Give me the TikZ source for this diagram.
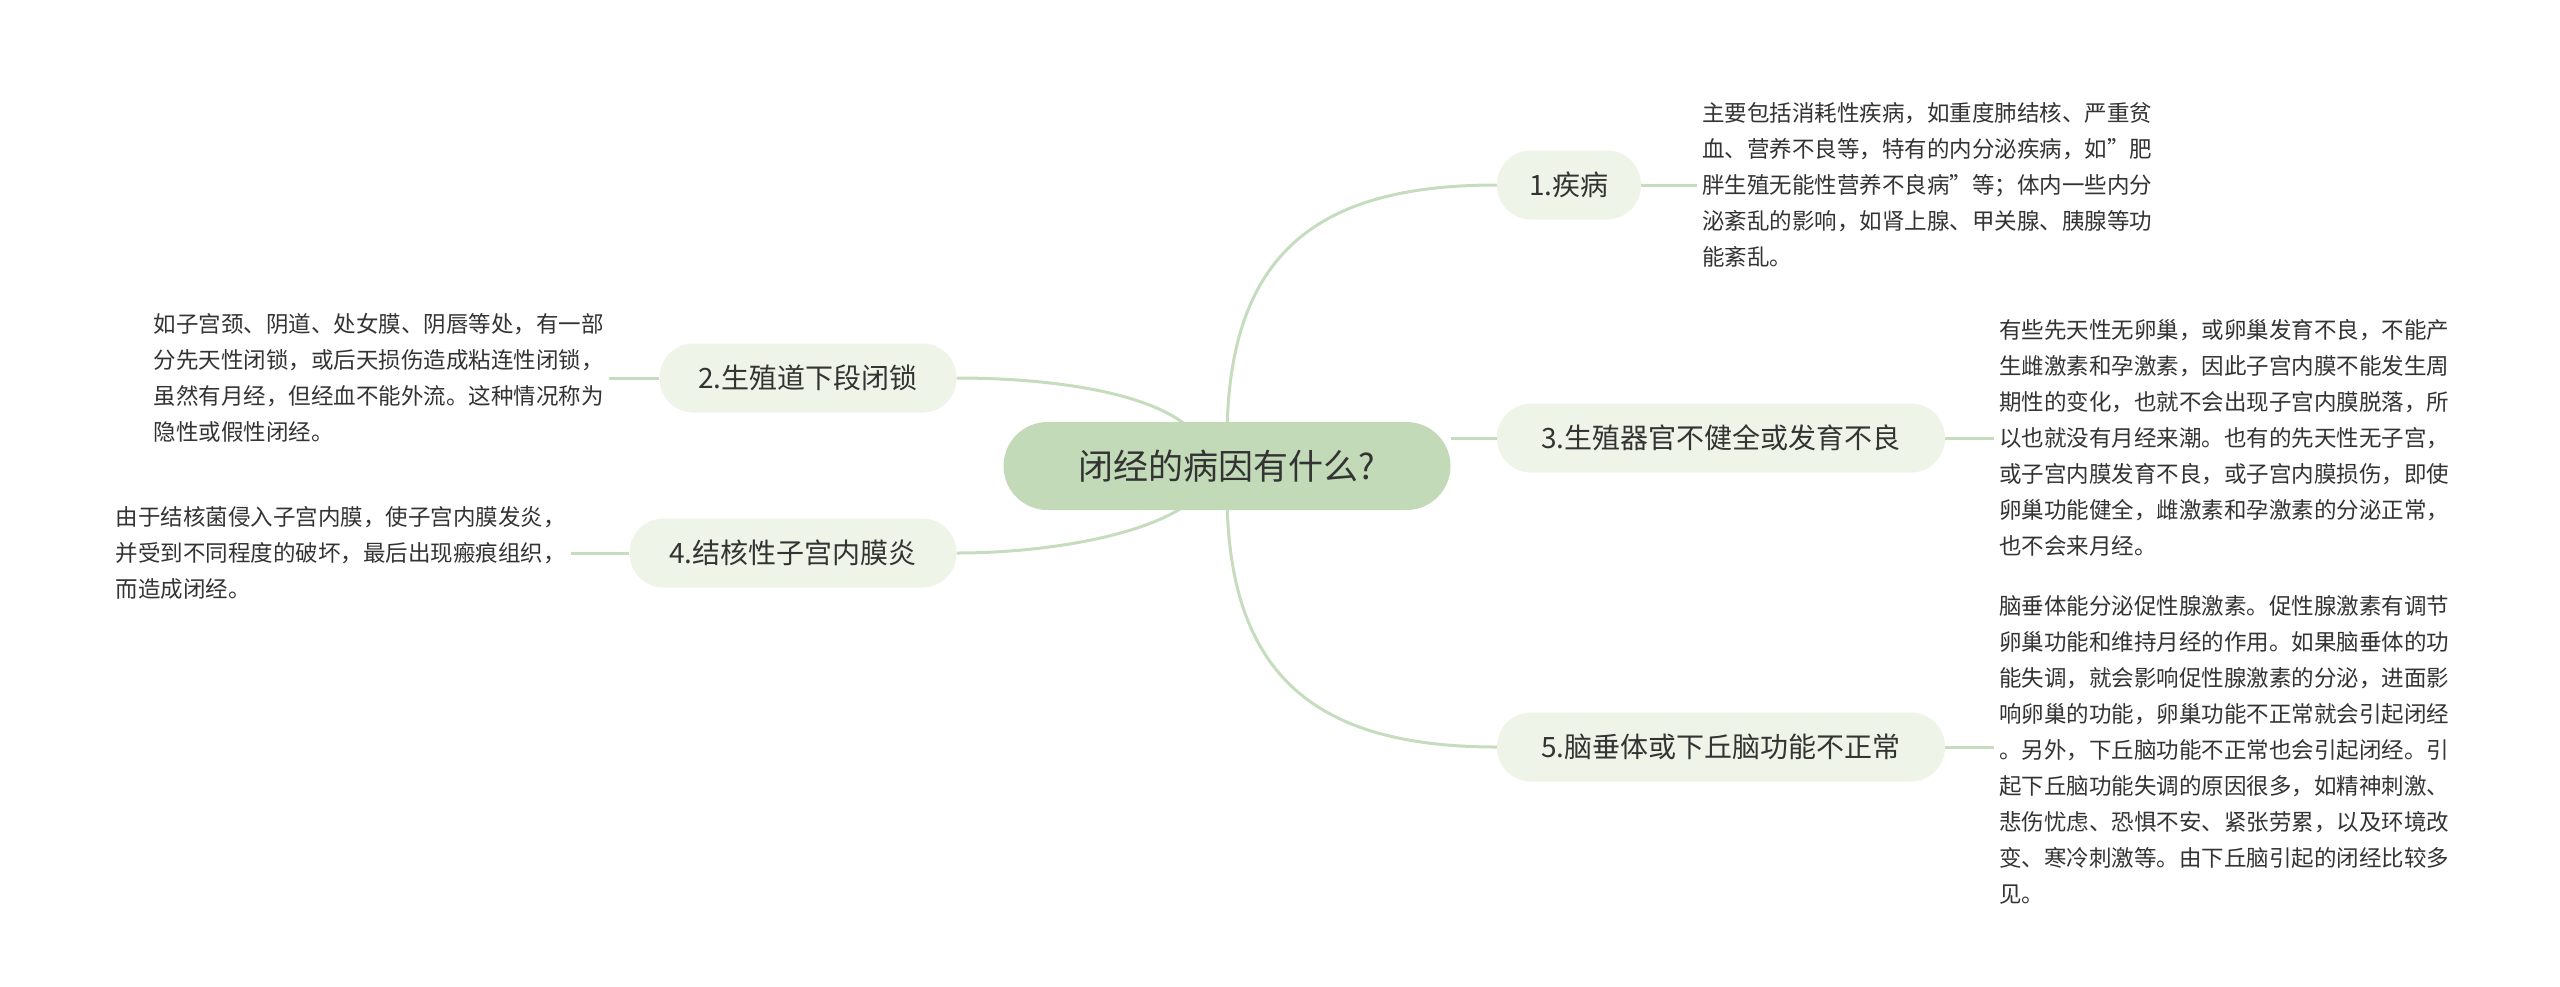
\documentclass[tikz,border=0pt]{standalone}
\usepackage{fontspec}
\setmainfont{Noto Sans CJK SC}
\usetikzlibrary{backgrounds}
\definecolor{lnc}{HTML}{C5DCBE}
\definecolor{rootc}{HTML}{C3DAB8}
\definecolor{brc}{HTML}{EEF5E8}
\definecolor{txc}{HTML}{333333}
\tikzset{
  root/.style={fill=rootc,rounded corners=44pt,minimum width=447pt,minimum height=88pt,text=txc,font=\fontsize{35}{40}\selectfont},
  branch/.style={fill=brc,rounded corners=34pt,minimum height=69pt,inner xsep=30pt,text=txc,font=\fontsize{28}{32}\selectfont},
  desc/.style={align=left,text=txc,inner sep=5pt,font=\fontsize{22.5}{36}\selectfont},
  conn/.style={draw=lnc,line width=3pt}
}
\begin{document}
\begin{tikzpicture}[x=1pt,y=-1pt]
\useasboundingbox (0,0) rectangle (2560,986);
\node[root] (r) at (1227,466) {闭经的病因有什么?};
\node[branch,minimum width=144pt] (b1) at (1569,185) {1.疾病};
\node[branch,minimum width=448pt] (b3) at (1721,438) {3.生殖器官不健全或发育不良};
\node[branch,minimum width=448pt] (b5) at (1721,747) {5.脑垂体或下丘脑功能不正常};
\node[branch,minimum width=297pt] (b2) at (808,378) {2.生殖道下段闭锁};
\node[branch,minimum width=327pt] (b4) at (793,553) {4.结核性子宫内膜炎};
\node[desc,anchor=west] (t1) at (1697,185) {主要包括消耗性疾病，如重度肺结核、严重贫\\血、营养不良等，特有的内分泌疾病，如"肥\\胖生殖无能性营养不良病"等；体内一些内分\\泌紊乱的影响，如肾上腺、甲关腺、胰腺等功\\能紊乱。};
\node[desc,anchor=west] (t3) at (1994,438) {有些先天性无卵巢，或卵巢发育不良，不能产\\生雌激素和孕激素，因此子宫内膜不能发生周\\期性的变化，也就不会出现子宫内膜脱落，所\\以也就没有月经来潮。也有的先天性无子宫，\\或子宫内膜发育不良，或子宫内膜损伤，即使\\卵巢功能健全，雌激素和孕激素的分泌正常，\\也不会来月经。};
\node[desc,anchor=west] (t5) at (1994,750) {脑垂体能分泌促性腺激素。促性腺激素有调节\\卵巢功能和维持月经的作用。如果脑垂体的功\\能失调，就会影响促性腺激素的分泌，进面影\\响卵巢的功能，卵巢功能不正常就会引起闭经\\。另外，下丘脑功能不正常也会引起闭经。引\\起下丘脑功能失调的原因很多，如精神刺激、\\悲伤忧虑、恐惧不安、紧张劳累，以及环境改\\变、寒冷刺激等。由下丘脑引起的闭经比较多\\见。};
\node[desc,anchor=east] (t2) at (609,378) {如子宫颈、阴道、处女膜、阴唇等处，有一部\\分先天性闭锁，或后天损伤造成粘连性闭锁，\\虽然有月经，但经血不能外流。这种情况称为\\隐性或假性闭经。};
\node[desc,anchor=east] (t4) at (571,553) {由于结核菌侵入子宫内膜，使子宫内膜发炎，\\并受到不同程度的破坏，最后出现瘢痕组织，\\而造成闭经。};
\begin{scope}[on background layer]
\coordinate (rt) at (1227,440);
\coordinate (rb) at (1227,492);
\coordinate (lt) at (1200,440);
\coordinate (lb) at (1200,492);
\draw[conn] (rt) .. controls (1227,250) and (1320,185) .. (b1.west);
\draw[conn] (rb) .. controls (1227,680) and (1320,747) .. (b5.west);
\draw[conn] (r.east |- b3.west) -- (b3.west);
\draw[conn] (lt) .. controls (1170,395) and (1060,378) .. (b2.east);
\draw[conn] (lb) .. controls (1170,530) and (1060,553) .. (b4.east);
\draw[conn] (b1.east) -- (t1.west);
\draw[conn] (b3.east) -- (t3.west |- b3.east);
\draw[conn] (b5.east) -- (t5.west |- b5.east);
\draw[conn] (b2.west) -- (t2.east);
\draw[conn] (b4.west) -- (t4.east);
\end{scope}
\end{tikzpicture}
\end{document}
